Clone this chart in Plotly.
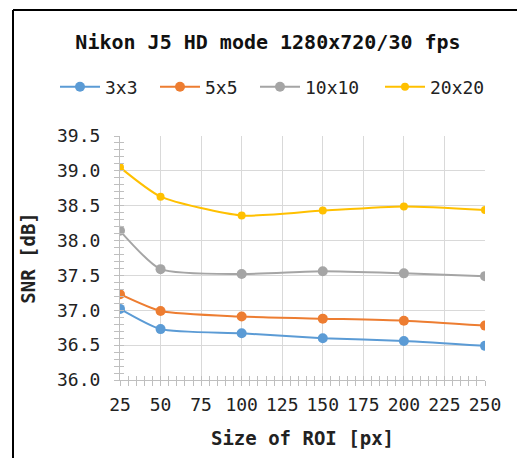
import plotly.graph_objects as go

roi = [25, 50, 100, 150, 200, 250]
snr_3x3 = [37.02, 36.73, 36.67, 36.60, 36.56, 36.49]
snr_5x5 = [37.23, 36.99, 36.91, 36.88, 36.85, 36.78]
snr_10x10 = [38.14, 37.59, 37.52, 37.56, 37.53, 37.49]
snr_20x20 = [39.05, 38.63, 38.36, 38.43, 38.49, 38.44]

series_names = ["3x3", "5x5", "10x10", "20x20"]
series_values = [snr_3x3, snr_5x5, snr_10x10, snr_20x20]
series_colors = ["#5B9BD5", "#ED7D31", "#A5A5A5", "#FFC000"]
marker_sizes = [10, 10, 10, 8]
legend_left_px = [55, 155, 255, 380]

FONT = "DejaVu Sans Mono"
W, H = 517, 458
L, R, T, B = 120, 32, 136, 78
pw, ph = W - L - R, H - T - B

def px(xp):
    return (xp - L) / pw

def py(yp):
    return (H - B - yp) / ph

fig = go.Figure()
legend_layouts = {}
for i, (name, vals, col, ms) in enumerate(zip(series_names, series_values, series_colors, marker_sizes)):
    lg = "legend" if i == 0 else f"legend{i + 1}"
    fig.add_trace(go.Scatter(
        x=roi, y=vals, name=name, mode="lines+markers",
        line=dict(color=col, width=2, shape="spline", smoothing=0.6),
        marker=dict(color=col, size=ms), legend=lg,
    ))
    legend_layouts[lg] = dict(
        orientation="h", x=legend_left_px[i] / W, xanchor="left", xref="container",
        y=1 - 87 / H, yanchor="middle", yref="container",
        font=dict(family=FONT, size=18, color="#222222"),
        itemwidth=40, bgcolor="rgba(0,0,0,0)",
    )

fig.update_layout(
    width=W, height=H,
    margin=dict(l=L, r=R, t=T, b=B),
    paper_bgcolor="white", plot_bgcolor="white",
    font=dict(family=FONT, size=18, color="#222222"),
    title=dict(text="<b>Nikon J5 HD mode 1280x720/30 fps</b>",
               x=268 / W, xanchor="center", y=1 - 42 / H, yanchor="middle",
               font=dict(family=FONT, size=20, color="#111111")),
    showlegend=True,
    xaxis=dict(
        range=[25, 250], dtick=25, tick0=25,
        showgrid=True, gridcolor="#D9D9D9", gridwidth=1,
        showline=True, linecolor="#BFBFBF", linewidth=1,
        ticks="outside", ticklen=5, tickcolor="#BFBFBF",
        minor=dict(dtick=5, tick0=25, ticks="outside", ticklen=5, tickcolor="#BFBFBF", showgrid=False),
        zeroline=False, ticklabelstandoff=3,
        title=dict(text="<b>Size of ROI [px]</b>", font=dict(family=FONT, size=19), standoff=18),
        tickfont=dict(family=FONT, size=18),
    ),
    yaxis=dict(
        range=[36.0, 39.5], dtick=0.5, tick0=36.0, tickformat=".1f",
        showgrid=True, gridcolor="#D9D9D9", gridwidth=1,
        showline=True, linecolor="#BFBFBF", linewidth=1,
        ticks="outside", ticklen=5, tickcolor="#BFBFBF",
        minor=dict(dtick=0.1, tick0=36.0, ticks="outside", ticklen=5, tickcolor="#BFBFBF", showgrid=False),
        zeroline=False, ticklabelstandoff=10,
        title=dict(text="<b>SNR [dB]</b>", font=dict(family=FONT, size=19), standoff=16),
        tickfont=dict(family=FONT, size=18),
    ),
    # overlay axes with inside ticks to mimic "cross" tick marks
    xaxis2=dict(overlaying="x", matches="x", range=[25, 250], dtick=25, tick0=25,
                showgrid=False, showticklabels=False, ticks="inside", ticklen=4,
                tickcolor="#BFBFBF", side="bottom", zeroline=False,
                minor=dict(dtick=5, tick0=25, ticks="inside", ticklen=4, tickcolor="#BFBFBF")),
    yaxis2=dict(overlaying="y", matches="y", range=[36.0, 39.5], dtick=0.5, tick0=36.0,
                showgrid=False, showticklabels=False, ticks="inside", ticklen=4,
                tickcolor="#BFBFBF", side="left", zeroline=False,
                minor=dict(dtick=0.1, tick0=36.0, ticks="inside", ticklen=4, tickcolor="#BFBFBF")),
    **legend_layouts,
)

# invisible trace to activate the overlay axes
fig.add_trace(go.Scatter(x=[roi[0]], y=[snr_3x3[0]], xaxis="x2", yaxis="y2",
                         mode="markers", marker=dict(opacity=0), showlegend=False,
                         hoverinfo="skip"))

# black frame lines (left and top) of the original screenshot
fig.add_shape(type="line", xref="paper", yref="paper",
              x0=px(13), x1=px(13), y0=py(10), y1=py(H + 5),
              line=dict(color="black", width=2))
fig.add_shape(type="line", xref="paper", yref="paper",
              x0=px(13), x1=px(W + 5), y0=py(10), y1=py(10),
              line=dict(color="black", width=2))

fig.write_html("out.html", config={"displayModeBar": False},
               post_script="document.body.style.margin='0';")
